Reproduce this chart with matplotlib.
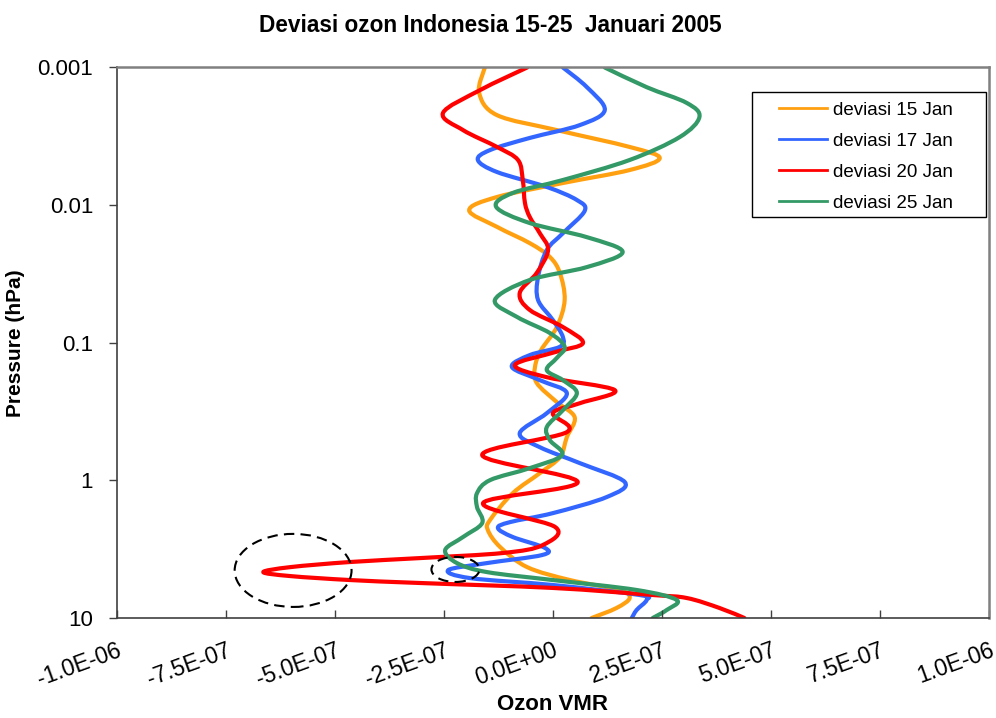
import numpy as np
import matplotlib

matplotlib.use("Agg")
import matplotlib.pyplot as plt
from matplotlib.lines import Line2D
from matplotlib.patches import Ellipse, PathPatch, Rectangle
from matplotlib.path import Path

plt.rcParams["font.family"] = ["Liberation Sans", "DejaVu Sans"]

# ozone VMR deviation (units of 1e-7) against pressure (hPa)
p_15 = [0.0010, 0.00153, 0.00222, 0.00285, 0.00378, 0.00455, 0.00556, 0.00691,
        0.00873, 0.0109, 0.0144, 0.0189, 0.0238, 0.0311, 0.0489, 0.0769, 0.113,
        0.150, 0.196, 0.270, 0.348, 0.485, 0.678, 0.887, 1.24, 1.94, 2.30, 3.05,
        4.27, 5.30, 6.26, 7.16, 8.46, 10.0]
dev_15 = [-1.56, -1.69, -1.28, 0.09, 1.76, 2.45, 1.76, 0.23,
          -1.28, -1.92, -1.28, -0.53, -0.07, 0.16, 0.27, 0.09, -0.27,
          -0.41, -0.37, 0.09, 0.50, 0.32, 0.16, -0.30, -0.92, -1.44, -1.49, -1.21,
          -0.59, 0.39, 1.53, 1.76, 1.46, 0.89]

p_17 = [0.0010, 0.00139, 0.00204, 0.00262, 0.00325, 0.00398, 0.00470, 0.00575,
        0.00738, 0.00918, 0.0110, 0.0160, 0.0212, 0.0333, 0.0489, 0.0684, 0.0910,
        0.107, 0.123, 0.150, 0.187, 0.232, 0.325, 0.454, 0.574, 0.750, 1.03,
        1.32, 1.73, 2.01, 2.22, 2.58, 3.10, 3.49, 3.99, 4.49, 5.13, 5.76, 6.81,
        7.40, 8.75, 10.0]
dev_17 = [0.23, 0.78, 1.19, 0.62, -0.53, -1.44, -1.72, -1.28,
          -0.14, 0.55, 0.73, 0.23, -0.14, -0.34, -0.34, 0.0, 0.23,
          0.16, -0.53, -0.94, -0.30, 0.32, -0.14, -0.76, -0.30, 0.62, 1.65,
          1.24, 0.0, -0.98, -1.26, -0.92, -0.18, -0.25, -1.51, -2.40, -1.90, 0.0, 1.99,
          2.15, 1.92, 1.81]

p_20 = [0.0010, 0.00146, 0.00214, 0.00285, 0.00378, 0.00470, 0.00657, 0.00966,
        0.0122, 0.0160, 0.0212, 0.0311, 0.0435, 0.0578, 0.0769, 0.1005, 0.117,
        0.145, 0.178, 0.221, 0.275, 0.325, 0.446, 0.656, 1.03, 1.46, 2.18, 2.95,
        3.37, 3.67, 3.92, 4.27, 4.64, 4.96, 5.30, 5.57, 6.05, 6.81, 7.16, 8.46,
        10.0]
dev_20 = [-0.59, -1.67, -2.52, -2.06, -1.28, -0.80, -0.69, -0.64,
          -0.53, -0.30, -0.11, -0.37, -0.76, -0.53, 0.23, 0.69, 0.05,
          -0.87, -0.14, 1.42, 0.62, 0.0, 0.32, -1.62, 0.57, -1.60, 0.05, -0.23,
          -1.14, -3.04, -4.65, -6.02, -6.64, -6.02, -4.65, -3.04, 0.0, 2.29, 3.07, 3.82,
          4.39]

p_25 = [0.0010, 0.00139, 0.00181, 0.00229, 0.00320, 0.00470, 0.00657, 0.00816,
        0.0103, 0.0135, 0.0171, 0.0219, 0.0282, 0.0350, 0.0489, 0.0650, 0.0850,
        0.107, 0.129, 0.158, 0.187, 0.232, 0.309, 0.410, 0.510, 0.656, 0.815,
        0.996, 1.24, 1.56, 2.04, 2.58, 3.21, 3.99, 4.64, 5.30, 6.26, 7.40, 8.75,
        10.0]
dev_25 = [1.19, 2.15, 3.07, 3.36, 2.91, 1.76, 0.23, -0.92,
          -1.30, -0.53, 0.78, 1.60, 0.78, -0.53, -1.33, -0.82, -0.07,
          0.27, 0.09, -0.14, 0.23, 0.55, 0.23, -0.14, -0.07, 0.21, -0.53,
          -1.44, -1.74, -1.74, -1.62, -2.06, -2.47, -2.20, -1.51, 0.0, 1.92, 2.84, 2.61,
          2.29]

series = [
    ("deviasi 15 Jan", p_15, dev_15, "#FFA010"),
    ("deviasi 17 Jan", p_17, dev_17, "#3366FF"),
    ("deviasi 20 Jan", p_20, dev_20, "#FF0000"),
    ("deviasi 25 Jan", p_25, dev_25, "#339966"),
]

x_ticks = [-1.0e-6, -7.5e-7, -5.0e-7, -2.5e-7, 0.0, 2.5e-7, 5.0e-7, 7.5e-7, 1.0e-6]
x_labels = ["-1.0E-06", "-7.5E-07", "-5.0E-07", "-2.5E-07", "0.0E+00",
            "2.5E-07", "5.0E-07", "7.5E-07", "1.0E-06"]
y_ticks = [0.001, 0.01, 0.1, 1, 10]
y_labels = ["0.001", "0.01", "0.1", "1", "10"]


def smooth_path(devs, pres):
    """Excel-like smoothed line: cubic Bezier through the points (in x / log p space)."""
    pts = np.column_stack([np.asarray(devs) * 1e-7, np.log10(pres)])
    n = len(pts)
    verts, codes = [pts[0]], [Path.MOVETO]
    for i in range(n - 1):
        p0, p1 = pts[max(i - 1, 0)], pts[i]
        p2, p3 = pts[i + 1], pts[min(i + 2, n - 1)]
        verts += [p1 + (p2 - p0) / 6, p2 - (p3 - p1) / 6, p2]
        codes += [Path.CURVE4] * 3
    v = np.array(verts)
    v[:, 1] = 10 ** v[:, 1]
    return Path(v, codes)


fig = plt.figure(figsize=(9.96, 7.18), dpi=100)
ax = fig.add_axes([0.1172, 0.1393, 0.8758, 0.7667])

for label, pres, devs, color in series:
    ax.add_patch(PathPatch(smooth_path(devs, pres), fill=False, edgecolor=color,
                           lw=3, capstyle="round", joinstyle="round"))

ax.set_yscale("log")
ax.set_xlim(-1e-6, 1e-6)
ax.set_ylim(10, 0.001)
ax.set_yticks(y_ticks)
ax.set_yticklabels(y_labels, fontsize=16)
ax.yaxis.set_minor_locator(matplotlib.ticker.NullLocator())
ax.set_xticks(x_ticks)
ax.set_xticklabels(x_labels, fontsize=16.5, rotation=20, ha="right", va="top",
                   rotation_mode="anchor")
ax.tick_params(axis="x", direction="in", length=6, width=1, color="#404040", pad=15)
ax.tick_params(axis="y", direction="out", length=6, width=1, color="#404040", pad=11)

for side in ("left", "bottom"):
    ax.spines[side].set_color("#404040")
    ax.spines[side].set_linewidth(1.2)
for side in ("top", "right"):
    ax.spines[side].set_color("#808080")
    ax.spines[side].set_linewidth(1.8)

# dashed circles marking the minima near 5 hPa
ax.add_patch(Ellipse((0.2022, 0.0864), 0.134, 0.1327, transform=ax.transAxes,
                     fill=False, ec="black", lw=1.5, ls=(0, (5, 3))))
ax.add_patch(Ellipse((0.3883, 0.0882), 0.055, 0.0455, transform=ax.transAxes,
                     fill=False, ec="black", lw=1.5, ls=(0, (5, 3))))

# legend with its own frame
ax.add_patch(Rectangle((0.7283, 0.7284), 0.2683, 0.2271, transform=ax.transAxes,
                       fc="white", ec="black", lw=1, zorder=4))
handles = [Line2D([], [], color=c, lw=2) for _, _, _, c in series]
leg = ax.legend(handles, [s[0] for s in series], loc="upper left",
                bbox_to_anchor=(0.7593, 0.938), frameon=False, fontsize=13.5,
                borderpad=0, borderaxespad=0, handlelength=2.56,
                handletextpad=0.3, labelspacing=0.74)
leg.set_zorder(5)

ax.set_xlabel("Ozon VMR", fontsize=16, fontweight="bold")
ax.xaxis.set_label_coords(0.5, -0.138)
ax.set_ylabel("Pressure (hPa)", fontsize=15, fontweight="bold")
ax.yaxis.set_label_coords(-0.105, 0.5)

fig.text(490 / 996, 1 - 31.7 / 718, "Deviasi ozon Indonesia 15-25  Januari 2005",
         ha="center", va="baseline", fontsize=16.3, fontweight="bold")

fig.savefig("out.png", dpi=100)
